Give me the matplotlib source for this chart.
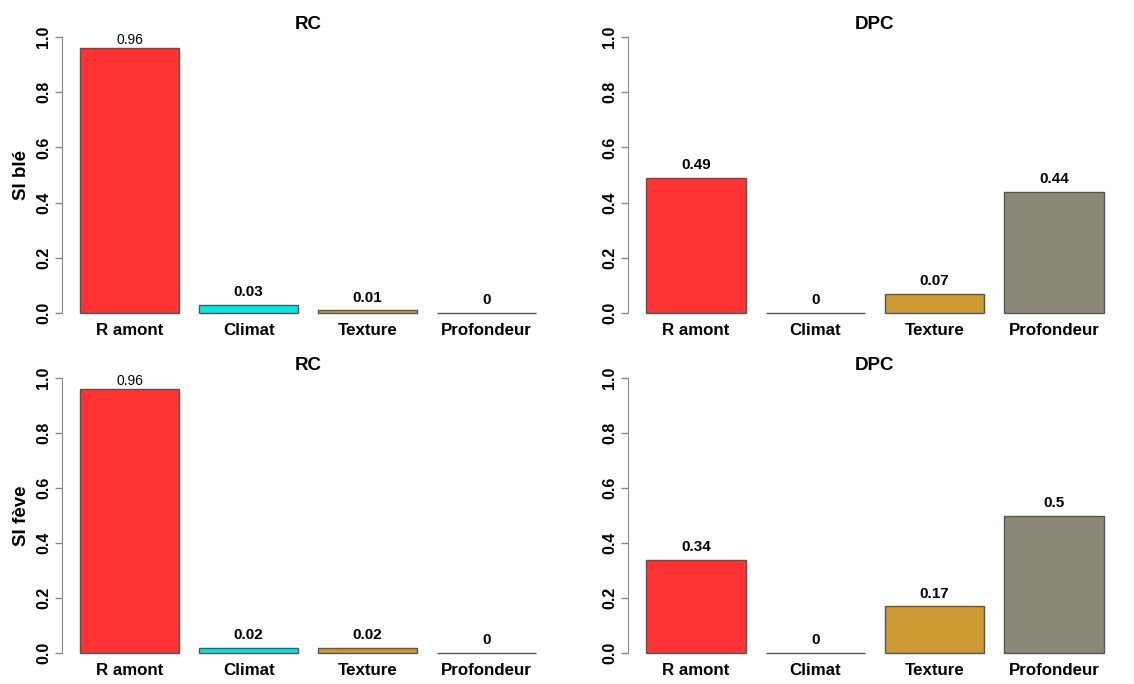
import matplotlib
matplotlib.use('Agg')
import matplotlib.pyplot as plt

plt.rcParams['font.family'] = ['Liberation Sans', 'DejaVu Sans']

# data
categories = ['R amont', 'Climat', 'Texture', 'Profondeur']
rc_ble = [0.96, 0.03, 0.01, 0]
dpc_ble = [0.49, 0, 0.07, 0.44]
rc_feve = [0.96, 0.02, 0.02, 0]
dpc_feve = [0.34, 0, 0.17, 0.5]
yticks = [0.0, 0.2, 0.4, 0.6, 0.8, 1.0]

colors = ['#FF3333', '#00E8E8', '#CC9933', '#8B8878']
W, H = 1134, 684


def make_axes(left, right, top, bottom):
    # pixel box -> figure fraction
    return fig.add_axes([left / W, 1 - bottom / H, (right - left) / W, (bottom - top) / H])


def draw_panel(ax, values, title, ylabel=None):
    # R barplot layout: width 1, space 0.2
    xs = [0.2 + 1.2 * i + 0.5 for i in range(len(values))]
    ax.bar(xs, values, width=1.0, color=colors, edgecolor='#555555', linewidth=1.0)
    for x, v in zip(xs, values):
        if v > 0.9:
            ax.annotate(f'{v:g}', (x, v), xytext=(0, 1), textcoords='offset points',
                        ha='center', va='bottom', fontsize=10)
        else:
            ax.annotate(f'{v:g}', (x, v), xytext=(0, 4), textcoords='offset points',
                        ha='center', va='bottom', fontsize=11, fontweight='bold')
    ax.set_xlim(0.016, 4.984)
    ax.set_ylim(-0.04, 1.04)
    for s in ['top', 'right', 'bottom']:
        ax.spines[s].set_visible(False)
    ax.spines['left'].set_bounds(0, 1)
    ax.spines['left'].set_color('#888888')
    ax.set_yticks(yticks)
    ax.set_yticklabels([f'{t:.1f}' for t in yticks], rotation=90, va='center',
                       fontsize=11.5, fontweight='bold')
    ax.tick_params(axis='y', length=5, width=1, color='#888888', pad=3)
    ax.set_xticks(xs)
    ax.set_xticklabels(categories, fontsize=12.2, fontweight='bold')
    ax.tick_params(axis='x', length=0, pad=-1)
    ax.set_title(title, fontsize=13.5, fontweight='bold', y=0.99, pad=0)
    if ylabel:
        ax.set_ylabel(ylabel, fontsize=13.5, fontweight='bold', labelpad=4)


fig = plt.figure(figsize=(W / 100, H / 100), dpi=100)

ax1 = make_axes(62, 554, 26, 324)
ax2 = make_axes(628, 1122, 26, 324)
ax3 = make_axes(62, 554, 367, 664)
ax4 = make_axes(628, 1122, 367, 664)

draw_panel(ax1, rc_ble, 'RC', 'SI blé')
draw_panel(ax2, dpc_ble, 'DPC')
draw_panel(ax3, rc_feve, 'RC', 'SI fève')
draw_panel(ax4, dpc_feve, 'DPC')

fig.savefig('out.png', dpi=100)
